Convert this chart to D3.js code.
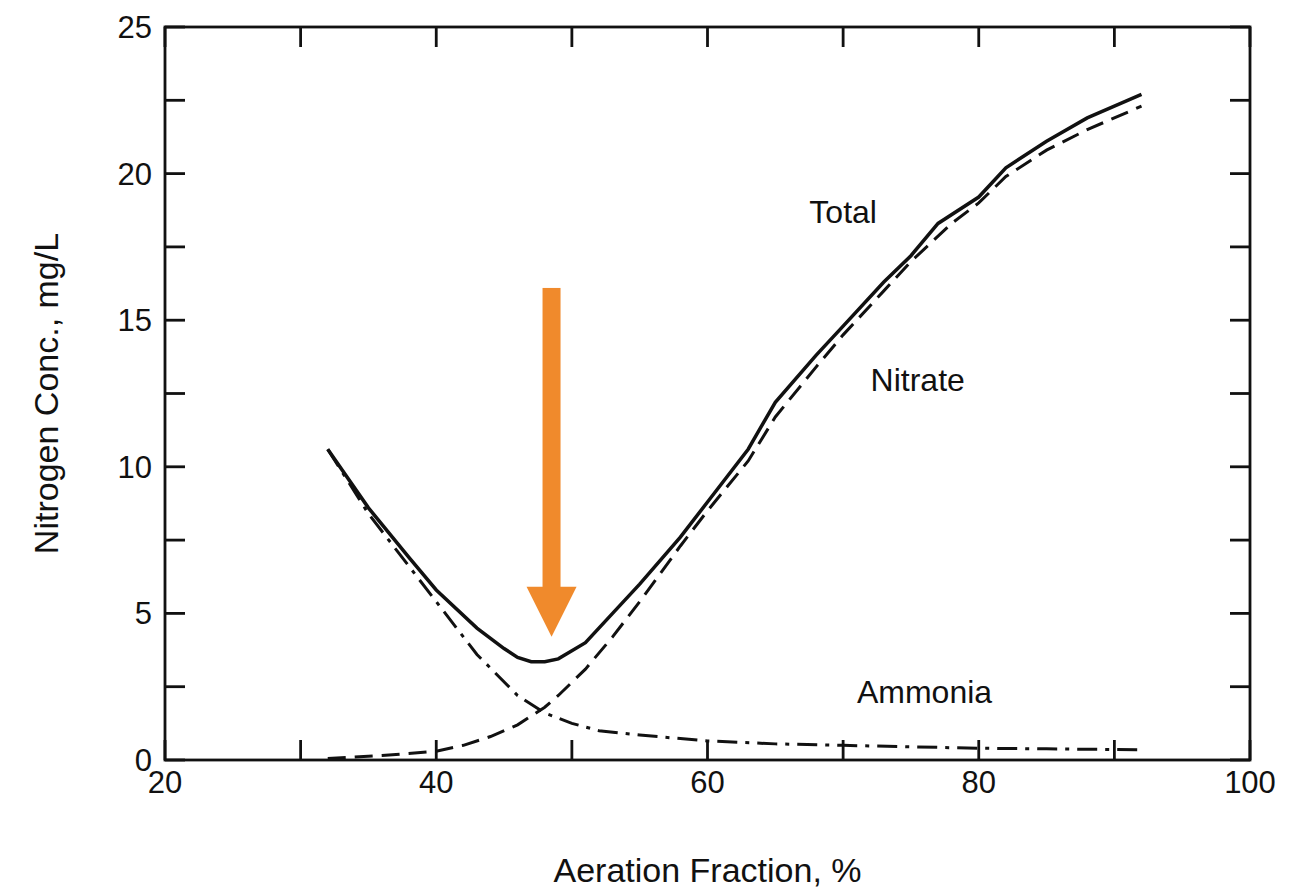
<!DOCTYPE html>
<html><head><meta charset="utf-8">
<script src="https://cdn.jsdelivr.net/npm/d3@7"></script>
<style>body{margin:0;background:#fff}text{font-family:"Liberation Sans",Arial,sans-serif;fill:#111}</style>
</head><body><div id="chart"></div>
<script>
const total_x = [32,35,38,40,43,45,46,47,48,49,51,53,55,58,60,63,65,68,70,73,75,77,80,82,85,88,92]
const total_y = [10.6,8.6,6.9,5.8,4.5,3.8,3.5,3.35,3.35,3.45,4.0,5.0,6.0,7.6,8.8,10.6,12.2,13.8,14.8,16.3,17.2,18.3,19.2,20.2,21.1,21.9,22.7]
const nitrate_x = [32,36,40,42,44,46,47,48,49,51,53,55,58,60,63,65,68,70,73,75,78,80,82,85,88,92]
const nitrate_y = [0.05,0.15,0.3,0.5,0.8,1.2,1.5,1.8,2.2,3.1,4.2,5.4,7.3,8.5,10.2,11.7,13.4,14.5,16.0,17.0,18.3,19.0,19.9,20.8,21.5,22.3]
const ammonia_x = [32,35,38,40,43,46,48,50,52,55,60,65,70,75,80,85,92]
const ammonia_y = [10.6,8.4,6.6,5.4,3.6,2.2,1.6,1.25,1.0,0.85,0.65,0.55,0.5,0.45,0.4,0.38,0.35]
const x_ticks = [20,40,60,80,100]
const y_ticks = [0,5,10,15,20,25]
const labels = [{t:"Total",x:70,y:18.3},{t:"Nitrate",x:75.5,y:12.6},{t:"Ammonia",x:76,y:1.95}]
const arrow = {x:48.5, y0:16.1, y1:4.2}

const W=1299,H=895
const svg=d3.select("#chart").append("svg").attr("width",W).attr("height",H)
const x=d3.scaleLinear().domain([20,100]).range([165,1250])
const y=d3.scaleLinear().domain([0,25]).range([760,27])

svg.append("rect").attr("x",165).attr("y",27).attr("width",1085).attr("height",733)
  .attr("fill","none").attr("stroke","#111").attr("stroke-width",2.8)

const minorX=d3.range(20,101,10), minorY=d3.range(0,25.1,2.5)
minorX.forEach(v=>{
  svg.append("line").attr("x1",x(v)).attr("x2",x(v)).attr("y1",760).attr("y2",740).attr("stroke","#111").attr("stroke-width",2.8)
  svg.append("line").attr("x1",x(v)).attr("x2",x(v)).attr("y1",27).attr("y2",47).attr("stroke","#111").attr("stroke-width",2.8)
})
minorY.forEach(v=>{
  svg.append("line").attr("x1",165).attr("x2",185).attr("y1",y(v)).attr("y2",y(v)).attr("stroke","#111").attr("stroke-width",2.8)
  svg.append("line").attr("x1",1230).attr("x2",1250).attr("y1",y(v)).attr("y2",y(v)).attr("stroke","#111").attr("stroke-width",2.8)
})
x_ticks.forEach(v=>svg.append("text").attr("x",x(v)).attr("y",793).attr("text-anchor","middle").attr("font-size",31).text(v))
y_ticks.forEach(v=>svg.append("text").attr("x",152).attr("y",y(v)+11).attr("text-anchor","end").attr("font-size",31).text(v))
svg.append("text").attr("x",x(60)).attr("y",882).attr("text-anchor","middle").attr("font-size",34).text("Aeration Fraction, %")
svg.append("text").attr("transform",`translate(58,${y(12.5)}) rotate(-90)`).attr("text-anchor","middle").attr("font-size",34).text("Nitrogen Conc., mg/L")

const line=d3.line().x(d=>x(d[0])).y(d=>y(d[1]))
const draw=(xs,ys,dash,w)=>svg.append("path").datum(xs.map((v,i)=>[v,ys[i]]))
  .attr("d",line).attr("fill","none").attr("stroke","#111").attr("stroke-width",w).attr("stroke-dasharray",dash)
draw(total_x,total_y,null,3.5)
draw(nitrate_x,nitrate_y,"18,9",3)
draw(ammonia_x,ammonia_y,"20,8,4,8",3)

labels.forEach(l=>svg.append("text").attr("x",x(l.x)).attr("y",y(l.y)).attr("text-anchor","middle").attr("font-size",32).text(l.t))

const ax=x(arrow.x), ya=y(arrow.y0), yb=y(arrow.y1)
svg.append("rect").attr("x",ax-9).attr("y",ya).attr("width",18).attr("height",yb-ya-48).attr("fill","#f08a2c")
svg.append("path").attr("d",`M${ax-25},${yb-50}L${ax+25},${yb-50}L${ax},${yb}Z`).attr("fill","#f08a2c")
</script></body></html>
